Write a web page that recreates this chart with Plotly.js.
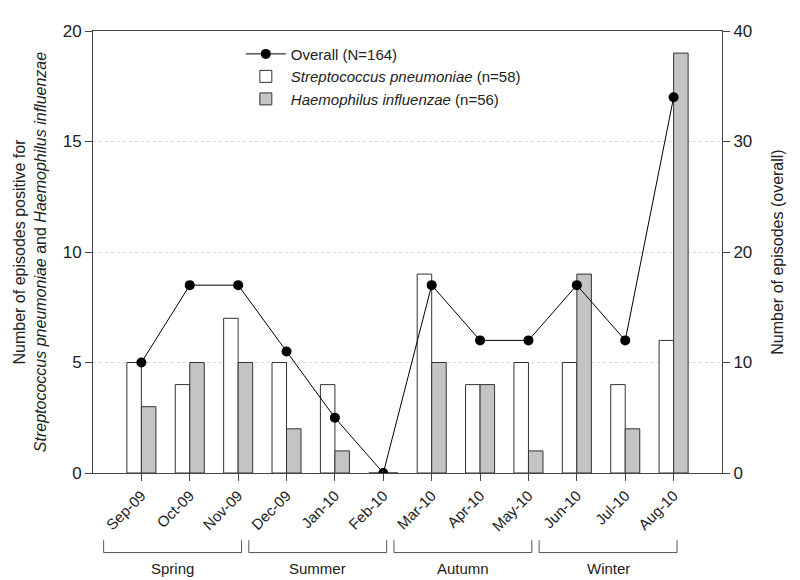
<!DOCTYPE html>
<html>
<head>
<meta charset="utf-8">
<script src="https://cdn.plot.ly/plotly-3.0.1.min.js"></script>
<style>html,body{margin:0;padding:0;background:#fff;}#chart{width:800px;height:580px;}</style>
</head>
<body>
<div id="chart"></div>
<script>
var months = ["Sep-09","Oct-09","Nov-09","Dec-09","Jan-10","Feb-10","Mar-10","Apr-10","May-10","Jun-10","Jul-10","Aug-10"];
var spneumoniae = [5,4,7,5,4,0,9,4,5,5,4,6];
var hinfluenzae = [3,5,5,2,1,0,5,4,1,9,2,19];
var overall = [10,17,17,11,5,0,17,12,12,17,12,34];
var seasons = ["Spring","Summer","Autumn","Winter"];
var seasonFirst = [0,3,6,9];
var seasonLast = [2,5,8,11];

var idx = months.map(function(_, i){ return i; });
var font = "Liberation Sans, Arial, sans-serif";

var traces = [
  {type:"bar", x:idx, y:spneumoniae, name:"<i>Streptococcus pneumoniae</i> (n=58)",
   marker:{color:"#ffffff", line:{color:"#333", width:1}}, legendrank:2},
  {type:"bar", x:idx, y:hinfluenzae, name:"<i>Haemophilus influenzae</i> (n=56)",
   marker:{color:"#c4c4c4", line:{color:"#333", width:1}}, legendrank:3},
  {type:"scatter", mode:"lines+markers", x:idx, y:overall, yaxis:"y2", name:"Overall (N=164)",
   line:{color:"#000", width:1}, marker:{color:"#000", size:10}, legendrank:1}
];

var shapes = [], annotations = [];
seasons.forEach(function(s, k){
  var x0 = seasonFirst[k] - 0.78, x1 = seasonLast[k] + 0.07;
  shapes.push({type:"path", xref:"x", yref:"paper",
    path:"M"+x0+",-0.152 L"+x0+",-0.18 L"+x1+",-0.18 L"+x1+",-0.152",
    line:{color:"#555", width:1}});
  annotations.push({text:s, xref:"x", yref:"paper", x:(x0+x1)/2, y:-0.192,
    xanchor:"center", yanchor:"top", showarrow:false, font:{family:font, size:15, color:"#222"}});
});

var layout = {
  width:800, height:580,
  margin:{l:93, r:78, t:31, b:107},
  paper_bgcolor:"#fff", plot_bgcolor:"#fff",
  font:{family:font, size:15, color:"#222"},
  barmode:"group", bargap:0.4, bargroupgap:0,
  showlegend:true,
  legend:{x:0.235, y:0.985, xanchor:"left", yanchor:"top", bgcolor:"rgba(0,0,0,0)",
          font:{family:font, size:15, color:"#222"}, tracegroupgap:0, itemwidth:40},
  xaxis:{range:[-1,12], tickmode:"array", tickvals:idx, ticktext:months, tickangle:-45,
         ticks:"outside", ticklen:7, tickcolor:"#444", showline:true, linecolor:"#444",
         mirror:true, showgrid:false, zeroline:false, tickfont:{size:15}},
  yaxis:{range:[0,20], tickvals:[0,5,10,15,20], ticks:"outside", ticklen:7, tickcolor:"#444",
         showline:true, linecolor:"#444", showgrid:true, gridcolor:"#d8d8d8", griddash:"dot",
         zeroline:false, tickfont:{size:17},
         title:{text:"Number of episodes positive for<br><i>Streptococcus pneumoniae</i> and <i>Haemophilus influenzae</i>",
                font:{size:16}, standoff:12}},
  yaxis2:{range:[0,40], tickvals:[0,10,20,30,40], overlaying:"y", side:"right", ticks:"outside",
          ticklen:7, tickcolor:"#444", showline:true, linecolor:"#444", showgrid:false,
          zeroline:false, tickfont:{size:17},
          title:{text:"Number of episodes (overall)", font:{size:16}, standoff:20}},
  shapes:shapes, annotations:annotations
};

Plotly.newPlot("chart", traces, layout, {displayModeBar:false});
</script>
</body>
</html>
